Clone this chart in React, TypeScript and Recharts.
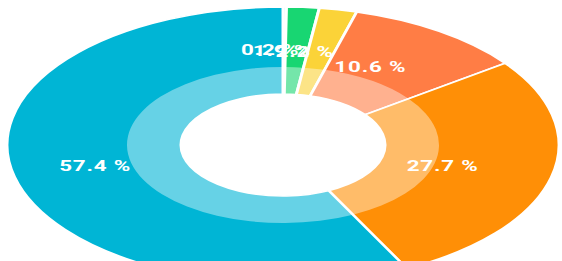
import { PieChart, Pie, Cell } from 'recharts';

const categories = ['Other', 'Green', 'Yellow', 'Coral', 'Orange', 'Blue'];
const shares = [0.2, 1.9, 2.2, 10.6, 27.7, 57.4];
const COLORS = ['#B2EBF2', '#18D672', '#FBD338', '#FF7D45', '#FF8F06', '#00B5D5'];

const data = categories.map((name, i) => ({ name, value: shares[i] }));

// the reference is stretched sideways, so the round pie gets scaled on X
const STRETCH = 2.0;
const RAD = Math.PI / 180;

const renderLabel = (props: any) => {
  const { cx, cy, midAngle, percent } = props;
  const r = 94;
  const x = cx + r * 0.95 * Math.cos(-midAngle * RAD) - 7;
  const y = cy + r * Math.sin(-midAngle * RAD);
  return (
    <text
      x={x}
      y={y}
      fill="#fff"
      textAnchor="middle"
      dominantBaseline="central"
      fontSize={14}
      fontWeight={700}
      fontFamily="Roboto"
      letterSpacing={0.5}
      transform={`translate(${x} ${y}) scale(0.8 1) translate(${-x} ${-y})`}
    >
      {`${(percent * 100).toFixed(1)} %`}
    </text>
  );
};

export default function App() {
  return (
    <div
      style={{
        position: 'absolute',
        left: 0,
        top: 0,
        width: 562,
        height: 261,
        overflow: 'hidden',
        background: '#fff',
      }}
    >
      <div
        style={{
          position: 'absolute',
          left: 133,
          top: 0,
          width: 300,
          height: 290,
          transform: `scaleX(${STRETCH})`,
          transformOrigin: '150px 0',
        }}
      >
        <PieChart width={300} height={290} margin={{ top: 0, right: 0, bottom: 0, left: 0 }}>
          <Pie
            data={data}
            dataKey="value"
            cx={150}
            cy={145}
            innerRadius={51}
            outerRadius={138}
            startAngle={90}
            endAngle={-270}
            stroke="#fff"
            strokeWidth={1.5}
            label={renderLabel}
            labelLine={false}
            isAnimationActive={false}
          >
            {data.map((d, i) => (
              <Cell key={d.name} fill={COLORS[i]} />
            ))}
          </Pie>
          {/* lighter inner band */}
          <Pie
            data={data}
            dataKey="value"
            cx={150}
            cy={145}
            innerRadius={51}
            outerRadius={78}
            startAngle={90}
            endAngle={-270}
            fill="#fff"
            fillOpacity={0.4}
            stroke="none"
            isAnimationActive={false}
          />
        </PieChart>
      </div>
    </div>
  );
}
